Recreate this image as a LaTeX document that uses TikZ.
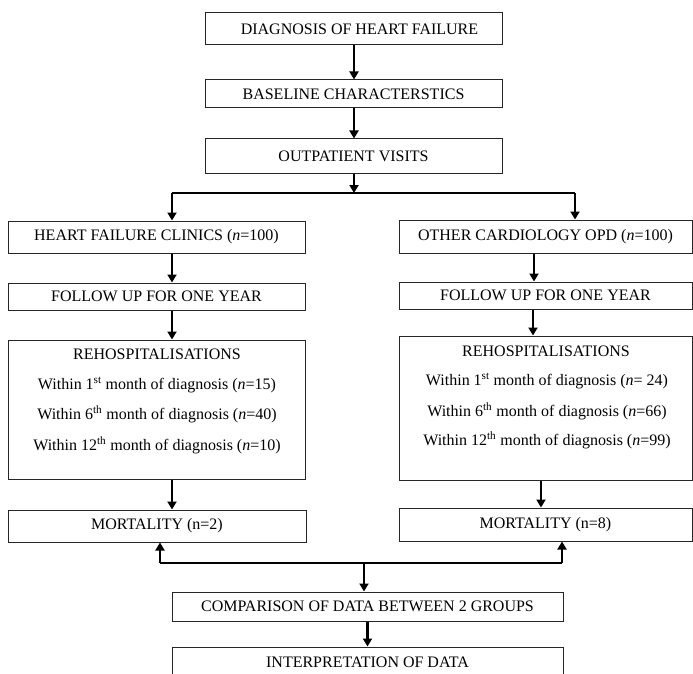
\documentclass[tikz,border=0pt]{standalone}
\usepackage{fontspec}
\setmainfont{Liberation Serif}
\usetikzlibrary{arrows.meta}
\begin{document}
\begin{tikzpicture}[x=1pt,y=-1pt,
  box/.style={draw=black!85, line width=1pt, rectangle, inner sep=0pt, font=\fontsize{16}{18}\selectfont},
  txt/.style={inner sep=0pt, font=\fontsize{16}{18}\selectfont},
  arr/.style={line width=2.4pt, -{Triangle[width=9pt,length=8pt]}},
  thinl/.style={line width=1.3pt}]
\useasboundingbox (0,0) rectangle (693,674);
\clip (0,0) rectangle (693,674);
% top chain
\node[box, minimum width=297pt, minimum height=32pt] (diag) at (353.5,29) {\hspace*{12pt}DIAGNOSIS OF HEART FAILURE};
\node[box, minimum width=297pt, minimum height=28pt] (base) at (353.5,94) {BASELINE CHARACTERSTICS};
\node[box, minimum width=297pt, minimum height=34pt] (outp) at (353.5,156) {OUTPATIENT VISITS};
% groups
\node[box, minimum width=297pt, minimum height=32pt] (hf) at (156.5,237) {HEART FAILURE CLINICS (\textit{n}=100)};
\node[box, minimum width=293pt, minimum height=33pt] (oc) at (545.5,236.5) {OTHER CARDIOLOGY OPD (\textit{n}=100)};
\node[box, minimum width=297pt, minimum height=27pt] (fuL) at (156.5,296.5) {FOLLOW UP FOR ONE YEAR};
\node[box, minimum width=293pt, minimum height=27pt] (fuR) at (545.5,295.5) {FOLLOW UP FOR ONE YEAR};
\node[box, minimum width=297pt, minimum height=139pt] (rehL) at (156.5,409.5) {};
\node[box, minimum width=293pt, minimum height=144pt] (rehR) at (545.5,408) {};
\node[txt] (rehLh) at (157,354) {REHOSPITALISATIONS};
\node[txt] (rehL1) at (157,385) {Within 1\textsuperscript{st} month of diagnosis (\textit{n}=15)};
\node[txt] (rehL2) at (157,414) {Within 6\textsuperscript{th} month of diagnosis (\textit{n}=40)};
\node[txt] (rehL3) at (157,445) {Within 12\textsuperscript{th} month of diagnosis (\textit{n}=10)};
\node[txt] (rehRh) at (546,351) {REHOSPITALISATIONS};
\node[txt] (rehR1) at (547,381) {Within 1\textsuperscript{st} month of diagnosis (\textit{n}= 24)};
\node[txt] (rehR2) at (547,411) {Within 6\textsuperscript{th} month of diagnosis (\textit{n}=66)};
\node[txt] (rehR3) at (547,440) {Within 12\textsuperscript{th} month of diagnosis (\textit{n}=99)};
\node[box, minimum width=298pt, minimum height=32pt] (mortL) at (157,526) {MORTALITY (n=2)};
\node[box, minimum width=293pt, minimum height=33pt] (mortR) at (545.5,524.5) {MORTALITY (n=8)};
% bottom
\node[box, minimum width=391pt, minimum height=29pt] (comp) at (367.5,606.5) {COMPARISON OF DATA BETWEEN 2 GROUPS};
\node[box, minimum width=391pt, minimum height=31pt] (interp) at (367.5,662.5) {INTERPRETATION OF DATA};
% coordinates
\coordinate (br) at (354,193);
\coordinate (brL) at (172,193);
\coordinate (brR) at (575,193);
\coordinate (cR1) at (534,0);
\coordinate (cR2) at (533,0);
\coordinate (cR3) at (541,0);
\coordinate (bL) at (160,563);
\coordinate (bR) at (562,563);
\coordinate (bM) at (364,563);
% connectors
\draw[arr] (diag.south -| br) -- (base.north -| br);
\draw[arr] (base.south -| br) -- (outp.north -| br);
\draw[arr] (outp.south -| br) -- (br);
\draw[thinl] (brL) -- (brR);
\draw[arr] (brL) -- (brL |- hf.north);
\draw[arr] (brR) -- (brR |- oc.north);
\draw[arr] (hf.south -| brL) -- (fuL.north -| brL);
\draw[arr] (fuL.south -| brL) -- (rehL.north -| brL);
\draw[arr] (rehL.south -| brL) -- (mortL.north -| brL);
\draw[arr] (oc.south -| cR1) -- (fuR.north -| cR1);
\draw[arr] (fuR.south -| cR2) -- (rehR.north -| cR2);
\draw[arr] (rehR.south -| cR3) -- (mortR.north -| cR3);
\draw[thinl] (bL) -- (bR);
\draw[arr] (bL) -- (bL |- mortL.south);
\draw[arr] (bR) -- (bR |- mortR.south);
\draw[arr] (bM) -- (bM |- comp.north);
\draw[arr] (comp.south) -- (interp.north);
\end{tikzpicture}
\end{document}
